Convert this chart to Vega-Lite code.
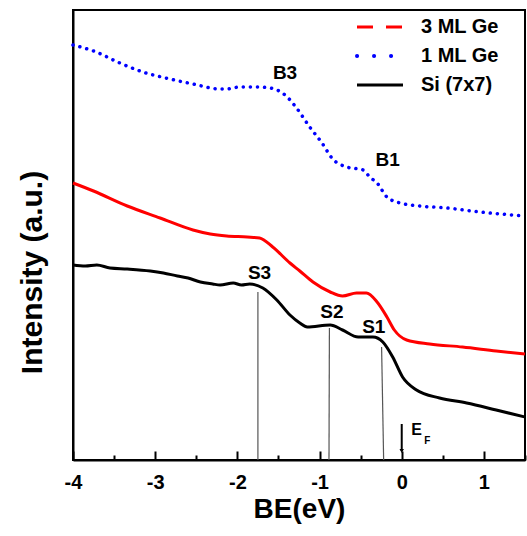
{
  "$schema": "https://vega.github.io/schema/vega-lite/v6.json",
  "width": 452,
  "height": 450,
  "autosize": {"type": "none"},
  "padding": {"left": 73, "top": 10, "right": 2, "bottom": 76},
  "background": "white",
  "config": {
    "view": {"stroke": "black", "strokeWidth": 2},
    "font": "Liberation Sans"
  },
  "datasets": {
    "curves": [
      {"series": "1 ML Ge", "be": -4.0, "intensity": 415},
      {"series": "1 ML Ge", "be": -3.75, "intensity": 409},
      {"series": "1 ML Ge", "be": -3.43, "intensity": 397},
      {"series": "1 ML Ge", "be": -3.15, "intensity": 388},
      {"series": "1 ML Ge", "be": -2.82, "intensity": 381},
      {"series": "1 ML Ge", "be": -2.54, "intensity": 376},
      {"series": "1 ML Ge", "be": -2.21, "intensity": 371},
      {"series": "1 ML Ge", "be": -2.13, "intensity": 371},
      {"series": "1 ML Ge", "be": -1.97, "intensity": 373},
      {"series": "1 ML Ge", "be": -1.76, "intensity": 373},
      {"series": "1 ML Ge", "be": -1.6, "intensity": 372},
      {"series": "1 ML Ge", "be": -1.42, "intensity": 365},
      {"series": "1 ML Ge", "be": -1.28, "intensity": 352},
      {"series": "1 ML Ge", "be": -1.12, "intensity": 333},
      {"series": "1 ML Ge", "be": -0.97, "intensity": 317},
      {"series": "1 ML Ge", "be": -0.84, "intensity": 301},
      {"series": "1 ML Ge", "be": -0.67, "intensity": 293},
      {"series": "1 ML Ge", "be": -0.47, "intensity": 290},
      {"series": "1 ML Ge", "be": -0.39, "intensity": 283},
      {"series": "1 ML Ge", "be": -0.3, "intensity": 277},
      {"series": "1 ML Ge", "be": -0.18, "intensity": 263},
      {"series": "1 ML Ge", "be": -0.02, "intensity": 257},
      {"series": "1 ML Ge", "be": 0.22, "intensity": 254},
      {"series": "1 ML Ge", "be": 0.55, "intensity": 252},
      {"series": "1 ML Ge", "be": 0.95, "intensity": 248},
      {"series": "1 ML Ge", "be": 1.35, "intensity": 245},
      {"series": "1 ML Ge", "be": 1.5, "intensity": 244},
      {"series": "3 ML Ge", "be": -4.0, "intensity": 277},
      {"series": "3 ML Ge", "be": -3.75, "intensity": 269},
      {"series": "3 ML Ge", "be": -3.34, "intensity": 254},
      {"series": "3 ML Ge", "be": -2.94, "intensity": 242},
      {"series": "3 ML Ge", "be": -2.54, "intensity": 230},
      {"series": "3 ML Ge", "be": -2.33, "intensity": 226},
      {"series": "3 ML Ge", "be": -2.13, "intensity": 224},
      {"series": "3 ML Ge", "be": -1.88, "intensity": 223},
      {"series": "3 ML Ge", "be": -1.73, "intensity": 222},
      {"series": "3 ML Ge", "be": -1.57, "intensity": 213},
      {"series": "3 ML Ge", "be": -1.36, "intensity": 197},
      {"series": "3 ML Ge", "be": -1.24, "intensity": 189},
      {"series": "3 ML Ge", "be": -1.08, "intensity": 178},
      {"series": "3 ML Ge", "be": -0.87, "intensity": 168},
      {"series": "3 ML Ge", "be": -0.72, "intensity": 164},
      {"series": "3 ML Ge", "be": -0.55, "intensity": 167},
      {"series": "3 ML Ge", "be": -0.43, "intensity": 167},
      {"series": "3 ML Ge", "be": -0.3, "intensity": 158},
      {"series": "3 ML Ge", "be": -0.18, "intensity": 143},
      {"series": "3 ML Ge", "be": -0.09, "intensity": 130},
      {"series": "3 ML Ge", "be": 0.06, "intensity": 120},
      {"series": "3 ML Ge", "be": 0.34, "intensity": 116},
      {"series": "3 ML Ge", "be": 0.74, "intensity": 113},
      {"series": "3 ML Ge", "be": 1.15, "intensity": 109},
      {"series": "3 ML Ge", "be": 1.5, "intensity": 106},
      {"series": "Si (7x7)", "be": -4.0, "intensity": 195},
      {"series": "Si (7x7)", "be": -3.85, "intensity": 194},
      {"series": "Si (7x7)", "be": -3.71, "intensity": 195},
      {"series": "Si (7x7)", "be": -3.55, "intensity": 192},
      {"series": "Si (7x7)", "be": -3.34, "intensity": 191},
      {"series": "Si (7x7)", "be": -3.06, "intensity": 189},
      {"series": "Si (7x7)", "be": -2.9, "intensity": 187},
      {"series": "Si (7x7)", "be": -2.73, "intensity": 184},
      {"series": "Si (7x7)", "be": -2.6, "intensity": 182},
      {"series": "Si (7x7)", "be": -2.45, "intensity": 178},
      {"series": "Si (7x7)", "be": -2.3, "intensity": 176},
      {"series": "Si (7x7)", "be": -2.21, "intensity": 175},
      {"series": "Si (7x7)", "be": -2.05, "intensity": 177},
      {"series": "Si (7x7)", "be": -1.95, "intensity": 175},
      {"series": "Si (7x7)", "be": -1.85, "intensity": 176},
      {"series": "Si (7x7)", "be": -1.69, "intensity": 172},
      {"series": "Si (7x7)", "be": -1.52, "intensity": 160},
      {"series": "Si (7x7)", "be": -1.36, "intensity": 145},
      {"series": "Si (7x7)", "be": -1.24, "intensity": 137},
      {"series": "Si (7x7)", "be": -1.15, "intensity": 133},
      {"series": "Si (7x7)", "be": -0.87, "intensity": 135},
      {"series": "Si (7x7)", "be": -0.72, "intensity": 130},
      {"series": "Si (7x7)", "be": -0.53, "intensity": 123},
      {"series": "Si (7x7)", "be": -0.35, "intensity": 123},
      {"series": "Si (7x7)", "be": -0.23, "intensity": 118},
      {"series": "Si (7x7)", "be": -0.11, "intensity": 103},
      {"series": "Si (7x7)", "be": 0.01, "intensity": 83},
      {"series": "Si (7x7)", "be": 0.18, "intensity": 70},
      {"series": "Si (7x7)", "be": 0.46, "intensity": 62},
      {"series": "Si (7x7)", "be": 0.79, "intensity": 57},
      {"series": "Si (7x7)", "be": 1.15, "intensity": 50},
      {"series": "Si (7x7)", "be": 1.5, "intensity": 43}
    ],
    "markers": [
      {"name": "S3", "x": -1.75, "x2": -1.75, "top": 168},
      {"name": "S2", "x": -0.88, "x2": -0.885, "top": 132},
      {"name": "S1", "x": -0.245, "x2": -0.22, "top": 113}
    ],
    "labels": [
      {"label": "S3", "be": -1.73, "intensity": 187},
      {"label": "S2", "be": -0.85, "intensity": 148},
      {"label": "S1", "be": -0.34, "intensity": 133},
      {"label": "B3", "be": -1.42, "intensity": 387},
      {"label": "B1", "be": -0.17, "intensity": 300}
    ]
  },
  "encoding": {
    "x": {"type": "quantitative"},
    "y": {"type": "quantitative"}
  },
  "layer": [
    {
      "data": {"name": "markers"},
      "mark": {"type": "rule", "color": "#555555", "strokeWidth": 1.2},
      "encoding": {
        "x": {"field": "x", "type": "quantitative", "scale": {"domain": [-4, 1.5]}},
        "x2": {"field": "x2"},
        "y": {"field": "top", "type": "quantitative", "scale": {"domain": [0, 450]}},
        "y2": {"datum": 0}
      }
    },
    {
      "data": {"name": "curves"},
      "transform": [{"filter": "datum.series != '1 ML Ge'"}],
      "mark": {"type": "line", "strokeWidth": 3, "interpolate": "monotone"},
      "encoding": {
        "x": {
          "field": "be", "type": "quantitative",
          "scale": {"domain": [-4, 1.5], "nice": false, "zero": false},
          "axis": {
            "title": "BE(eV)",
            "titleFontSize": 28, "titleFontWeight": "bold", "titleColor": "black", "titlePadding": 3,
            "values": [-4, -3.5, -3, -2.5, -2, -1.5, -1, -0.5, 0, 0.5, 1, 1.5],
            "labelExpr": "datum.value % 1 == 0 ? toString(datum.value) : ''",
            "labelFontSize": 20, "labelFontWeight": "bold", "labelColor": "black", "labelPadding": 21,
            "labelFlush": false,
            "tickSize": {"condition": {"test": "datum.value % 1 == 0", "value": -9}, "value": -5},
            "tickWidth": 2, "tickColor": "black",
            "domainColor": "black", "domainWidth": 2,
            "grid": false
          }
        },
        "y": {
          "field": "intensity", "type": "quantitative",
          "scale": {"domain": [0, 450], "nice": false},
          "axis": {
            "title": "Intensity (a.u.)",
            "titleFontSize": 30, "titleFontWeight": "bold", "titleColor": "black",
            "titleX": -41, "titleY": 262, "titleAngle": -90, "titleAlign": "center", "titleBaseline": "middle",
            "labels": false, "ticks": false, "grid": false,
            "domainColor": "black", "domainWidth": 2
          }
        },
        "color": {
          "field": "series", "type": "nominal",
          "scale": {"domain": ["3 ML Ge", "1 ML Ge", "Si (7x7)"], "range": ["#ff0000", "#0000ff", "#000000"]},
          "legend": {
            "title": null,
            "orient": "none", "legendX": 297, "legendY": 7,
            "symbolType": "stroke", "symbolSize": 2116, "symbolStrokeWidth": 3,
            "labelFontSize": 20, "labelFontWeight": "bold", "labelColor": "black",
            "labelOffset": 31, "rowPadding": 9, "padding": 0,
            "encode": {
              "symbols": {
                "update": {
                  "strokeDash": {"signal": "datum.value == '3 ML Ge' ? [16, 13] : datum.value == '1 ML Ge' ? [0.1, 16.9] : [1, 0]"},
                  "strokeWidth": {"signal": "datum.value == '1 ML Ge' ? 4 : 3"},
                  "strokeCap": {"signal": "datum.value == '1 ML Ge' ? 'round' : 'butt'"}
                }
              }
            }
          }
        }
      }
    },
    {
      "data": {"name": "curves"},
      "transform": [{"filter": "datum.series == '1 ML Ge'"}],
      "mark": {"type": "line", "strokeWidth": 3.5, "strokeDash": [0.1, 7], "strokeCap": "round", "interpolate": "monotone"},
      "encoding": {
        "x": {"field": "be", "type": "quantitative"},
        "y": {"field": "intensity", "type": "quantitative"},
        "color": {"field": "series", "type": "nominal"}
      }
    },
    {
      "data": {"name": "labels"},
      "mark": {"type": "text", "fontSize": 19, "fontWeight": "bold", "color": "black", "align": "center", "baseline": "middle"},
      "encoding": {
        "x": {"field": "be", "type": "quantitative"},
        "y": {"field": "intensity", "type": "quantitative"},
        "text": {"field": "label"}
      }
    },
    {
      "data": {"values": [{"be": 0, "top": 36, "bottom": 9}]},
      "mark": {"type": "rule", "color": "black", "strokeWidth": 2},
      "encoding": {
        "x": {"field": "be", "type": "quantitative"},
        "y": {"field": "top", "type": "quantitative"},
        "y2": {"field": "bottom"}
      }
    },
    {
      "data": {"values": [{"be": 0, "v": 9}]},
      "mark": {"type": "point", "shape": "triangle-down", "filled": true, "color": "black", "size": 20, "opacity": 1},
      "encoding": {
        "x": {"field": "be", "type": "quantitative"},
        "y": {"field": "v", "type": "quantitative"}
      }
    },
    {
      "data": {"values": [{"t": "E", "be": 0.18, "v": 30}]},
      "mark": {"type": "text", "fontSize": 16, "fontWeight": "bold", "color": "black", "align": "center", "baseline": "middle"},
      "encoding": {
        "x": {"field": "be", "type": "quantitative"},
        "y": {"field": "v", "type": "quantitative"},
        "text": {"field": "t"}
      }
    },
    {
      "data": {"values": [{"t": "F", "be": 0.31, "v": 19}]},
      "mark": {"type": "text", "fontSize": 10, "fontWeight": "bold", "color": "black", "align": "center", "baseline": "middle"},
      "encoding": {
        "x": {"field": "be", "type": "quantitative"},
        "y": {"field": "v", "type": "quantitative"},
        "text": {"field": "t"}
      }
    }
  ]
}
